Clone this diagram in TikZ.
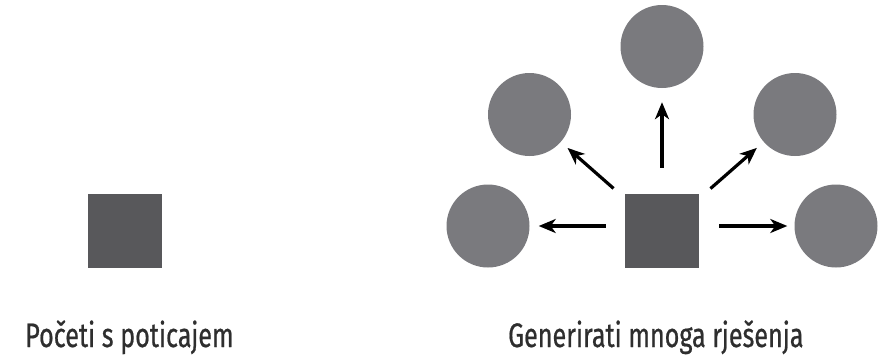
\documentclass[tikz,border=0pt]{standalone}
\usepackage{fontspec}
\setmainfont[FakeStretch=0.75]{Fira Sans}
\newfontfamily\capfont[FakeStretch=0.74, FakeBold=0.6]{Fira Sans}
\usetikzlibrary{arrows.meta}

\definecolor{sqgray}{HTML}{58585B}
\definecolor{cgray}{HTML}{7A7A7E}

\begin{document}
\begin{tikzpicture}[x=1pt, y=-1pt,
		prompt/.style={fill=sqgray, minimum size=74pt, inner sep=0pt},
		idea/.style={circle, fill=cgray, minimum size=83pt, inner sep=0pt},
		arr/.style={-{Stealth[length=17pt, width=14pt, inset=5pt]}, line width=3.2pt},
		caption/.style={anchor=base west, inner sep=0pt, font=\capfont\fontsize{34}{40}\selectfont, text=black!82}]
		\useasboundingbox (0,0) rectangle (886,359);

		% Squares
		\node[prompt] (start) at (124.5,230.5) {};
		\node[prompt] (sq) at (662,231) {};

		% Circles
		\node[idea] (ll) at (488,226) {};
		\node[idea] (ul) at (529.5,114.5) {};
		\node[idea] (up) at (662,46.5) {};
		\node[idea] (ur) at (795,114.5) {};
		\node[idea] (lr) at (836,226) {};

		% Arrows
		\draw[arr, shorten >=9pt] (sq.west |- ll) ++(-19,0) -- (ll);
		\draw[arr, shorten <=15pt, shorten >=9pt] (sq) -- (ul);
		\draw[arr, shorten <=26pt, shorten >=14pt] (sq.north) -- (up);
		\draw[arr, shorten <=15pt, shorten >=9pt] (sq) -- (ur);
		\draw[arr, shorten >=7pt] (sq.east |- lr) ++(20,0) -- (lr);

		% Labels
		\node[caption] (t1) at (25,347) {Početi s poticajem};
		\node[caption] (t2) at (508,347) {Generirati mnoga rješenja};
	\end{tikzpicture}
\end{document}
